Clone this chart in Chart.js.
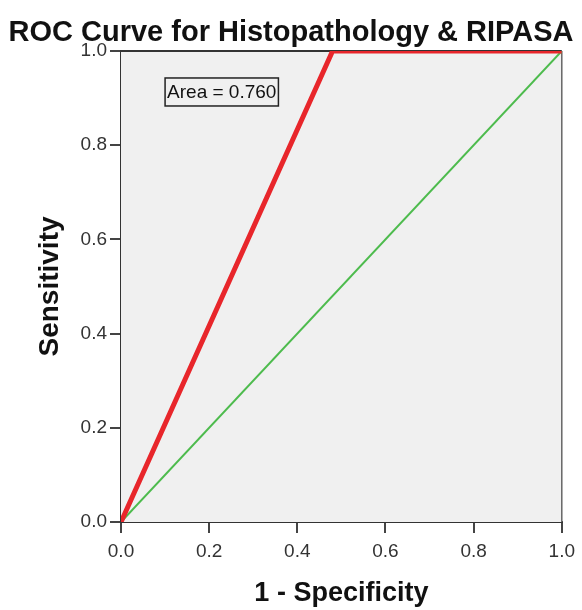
<!DOCTYPE html>
<html>
<head>
<meta charset="utf-8">
<script src="https://cdn.jsdelivr.net/npm/chart.js@4"></script>
<style>
  html, body { margin: 0; padding: 0; background: #fff; }
  #wrap { width: 582px; height: 610px; }
</style>
</head>
<body>
<div id="wrap"><canvas id="myChart" width="582" height="610"></canvas></div>
<script>
// ROC data
var rocX = [0, 0.48, 1];      // 1 - specificity
var rocY = [0, 1, 1];         // sensitivity
var refX = [0, 1];            // reference diagonal
var refY = [0, 1];
var tickValues = [0, 0.2, 0.4, 0.6, 0.8, 1.0];
var areaLabel = 'Area = 0.760';

function toPoints(xs, ys) {
  return xs.map(function (x, i) { return { x: x, y: ys[i] }; });
}

var plotFrame = {
  id: 'plotFrame',
  beforeDatasetsDraw: function (chart) {
    var a = chart.chartArea, c = chart.ctx;
    c.save();
    c.fillStyle = '#f0f0f0';
    c.fillRect(a.left, a.top, a.right - a.left, a.bottom - a.top);
    c.strokeStyle = '#333';
    c.lineWidth = 2;
    c.beginPath();
    c.moveTo(a.left, a.top);
    c.lineTo(a.right, a.top);
    c.stroke();
    c.strokeStyle = '#666';
    c.lineWidth = 1.5;
    c.beginPath();
    c.moveTo(a.right, a.top);
    c.lineTo(a.right, a.bottom);
    c.stroke();
    c.restore();
  },
  afterDatasetsDraw: function (chart) {
    var c = chart.ctx;
    var xs = chart.scales.x, ys = chart.scales.y;
    var x0 = xs.getPixelForValue(0.1);
    var yc = ys.getPixelForValue(0.913);
    c.save();
    c.font = '19px "Liberation Sans", Arial, sans-serif';
    c.textBaseline = 'middle';
    c.fillStyle = '#111';
    var w = c.measureText(areaLabel).width;
    c.fillText(areaLabel, x0 + 2, yc + 1);
    c.strokeStyle = '#222';
    c.lineWidth = 1.5;
    c.strokeRect(x0, yc - 14, w + 4, 28);
    c.restore();
  }
};

var ctx = document.getElementById('myChart');
var myChart = new Chart(ctx, {
  type: 'scatter',
  data: {
    datasets: [{
      label: 'RIPASA',
      data: toPoints(rocX, rocY),
      showLine: true,
      borderColor: '#e8262b',
      borderWidth: 5,
      pointRadius: 0,
      order: 0
    }, {
      label: 'Reference',
      data: toPoints(refX, refY),
      showLine: true,
      borderColor: '#4dbb4d',
      borderWidth: 2,
      pointRadius: 0,
      order: 1
    }]
  },
  options: {
    responsive: false,
    animation: false,
    layout: { padding: 0 },
    plugins: {
      legend: { display: false },
      tooltip: { enabled: false },
      title: {
        display: true,
        text: 'ROC Curve for Histopathology & RIPASA',
        color: '#111',
        font: { family: '"Liberation Sans", Arial, sans-serif', size: 29, weight: 'bold' },
        padding: { top: 16, bottom: 0.2 }
      }
    },
    scales: {
      x: {
        type: 'linear',
        min: 0, max: 1,
        afterFit: function (s) { s.height = 88; },
        afterBuildTicks: function (s) { s.ticks = tickValues.map(function (v) { return { value: v }; }); },
        ticks: {
          padding: 7,
          color: '#333',
          font: { family: '"Liberation Sans", Arial, sans-serif', size: 19 },
          callback: function (v) { return Number(v).toFixed(1); }
        },
        grid: { drawOnChartArea: false, drawTicks: true, tickLength: 11, color: '#444', lineWidth: 2 },
        border: { color: '#333', width: 2 },
        title: {
          display: true,
          text: '1 - Specificity',
          color: '#111',
          font: { family: '"Liberation Sans", Arial, sans-serif', size: 27, weight: 'bold' },
          padding: { top: 0, bottom: 0 }
        }
      },
      y: {
        type: 'linear',
        min: 0, max: 1,
        afterFit: function (s) { s.width = 121; },
        afterBuildTicks: function (s) { s.ticks = tickValues.map(function (v) { return { value: v }; }); },
        ticks: {
          padding: 3,
          color: '#333',
          font: { family: '"Liberation Sans", Arial, sans-serif', size: 19 },
          callback: function (v) { return Number(v).toFixed(1); }
        },
        grid: { drawOnChartArea: false, drawTicks: true, tickLength: 11, color: '#444', lineWidth: 2 },
        border: { color: '#333', width: 2 },
        title: {
          display: true,
          text: 'Sensitivity',
          color: '#111',
          font: { family: '"Liberation Sans", Arial, sans-serif', size: 28, weight: 'bold' },
          padding: { top: 33, bottom: 0 }
        }
      },
      // empty spacer on the right so the title stays centred on the page
      yRight: {
        type: 'linear',
        position: 'right',
        min: 0, max: 1,
        afterFit: function (s) { s.width = 19; },
        ticks: { display: false },
        grid: { display: false, drawTicks: false },
        border: { display: false }
      }
    }
  },
  plugins: [plotFrame]
});
</script>
</body>
</html>
